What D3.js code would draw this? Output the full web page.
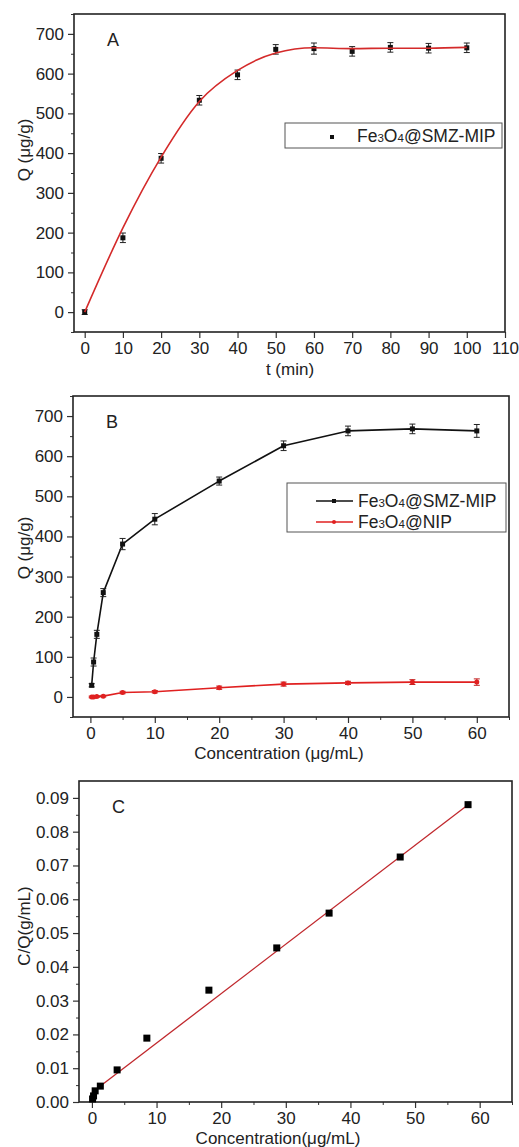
<!DOCTYPE html>
<html>
<head>
<meta charset="utf-8">
<script src="https://cdn.jsdelivr.net/npm/d3@7"></script>
<style>
  body { margin: 0; background: #fff; }
  svg text { font-family: "Liberation Sans", Arial, sans-serif; fill: #222; }
</style>
</head>
<body>
<svg id="chart" width="519" height="1147"></svg>
<script>
// panel A: kinetics
const tA = [0, 10, 20, 30, 40, 50, 60, 70, 80, 90, 100];
const qA = [0, 187, 387, 533, 597, 661, 663, 656, 666, 664, 665];
const errA = [6, 12, 12, 12, 12, 12, 14, 12, 12, 12, 12];
const fitA = [0, 212, 390, 530, 608, 652, 665, 663, 664, 664, 666];

// panel B: isotherms
const concB = [0.2, 0.5, 1, 2, 5, 10, 20, 30, 40, 50, 60];
const mipB = [29, 87, 156, 260, 381, 443, 538, 626, 663, 668, 663];
const mipErrB = [4, 10, 10, 10, 14, 14, 10, 12, 12, 12, 16];
const nipB = [0, 0, 1, 2, 11, 13, 23, 32, 35, 37, 37];
const nipErrB = [2, 2, 2, 2, 3, 3, 4, 5, 4, 6, 8];

// panel C: Langmuir plot
const ceC = [0.1, 0.25, 0.5, 1.3, 3.9, 8.5, 18.1, 28.6, 36.7, 47.7, 58.2];
const cqC = [0.0009, 0.0018, 0.0033, 0.0047, 0.0095, 0.0189, 0.0331, 0.0456, 0.0559, 0.0725, 0.0880];
const fitCx = [0, 58.2];
const fitCy = [0.0028, 0.0880];

const yTicksQ = [0, 100, 200, 300, 400, 500, 600, 700];
const xTicksA = [0, 10, 20, 30, 40, 50, 60, 70, 80, 90, 100, 110];
const xTicksConc = [0, 10, 20, 30, 40, 50, 60];
const yTicksC = [0, 0.01, 0.02, 0.03, 0.04, 0.05, 0.06, 0.07, 0.08, 0.09];

const svg = d3.select("#chart");
const FS = 17;

function panel(o) {
  let g = svg.append("g");
  let x = d3.scaleLinear().domain(o.xDomain).range([o.left, o.right]);
  let y = d3.scaleLinear().domain(o.yDomain).range([o.bottom, o.top]);

  // minor ticks
  if (o.yMinor) {
    g.append("g")
      .attr("transform", "translate(" + o.left + ",0)")
      .call(d3.axisLeft(y).tickValues(o.yMinor).tickSize(3).tickFormat(""))
      .call(s => s.select(".domain").remove())
      .selectAll("line").attr("stroke", "#333");
  }
  if (o.xMinor) {
    g.append("g")
      .attr("transform", "translate(0," + o.bottom + ")")
      .call(d3.axisBottom(x).tickValues(o.xMinor).tickSize(3).tickFormat(""))
      .call(s => s.select(".domain").remove())
      .selectAll("line").attr("stroke", "#333");
  }

  let ya = g.append("g")
    .attr("transform", "translate(" + o.left + ",0)")
    .call(d3.axisLeft(y).tickValues(o.yTicks).tickSize(6).tickSizeOuter(0).tickPadding(4).tickFormat(o.yFormat));
  ya.select(".domain").remove();
  ya.selectAll("line").attr("stroke", "#333").attr("stroke-width", 1.2);
  ya.selectAll("text").attr("font-size", FS).style("font-family", "Liberation Sans, Arial, sans-serif").attr("fill", "#222");

  let xa = g.append("g")
    .attr("transform", "translate(0," + o.bottom + ")")
    .call(d3.axisBottom(x).tickValues(o.xTicks).tickSize(6).tickSizeOuter(0).tickPadding(4));
  xa.select(".domain").remove();
  xa.selectAll("line").attr("stroke", "#333").attr("stroke-width", 1.2);
  xa.selectAll("text").attr("font-size", FS).style("font-family", "Liberation Sans, Arial, sans-serif").attr("fill", "#222");

  // frame
  g.append("rect")
    .attr("x", o.left).attr("y", o.top)
    .attr("width", o.right - o.left).attr("height", o.bottom - o.top)
    .attr("fill", "none").attr("stroke", "#222").attr("stroke-width", 1.6);

  g.append("text").attr("x", o.left + 33).attr("y", o.top + 32)
    .attr("font-size", FS + 1).text(o.tag);

  g.append("text").attr("x", o.xLabelX).attr("y", o.xLabelY)
    .attr("text-anchor", "middle").attr("font-size", FS).text(o.xLabel);

  g.append("text")
    .attr("transform", "translate(" + 30 + "," + o.yLabelY + ") rotate(-90)")
    .attr("text-anchor", "middle").attr("font-size", FS).text(o.yLabel);

  return {g: g, x: x, y: y};
}

function errorBars(p, xs, ys, es, color) {
  let eb = p.g.append("g").attr("stroke", color).attr("stroke-width", 1);
  xs.forEach((xv, i) => {
    let cx = p.x(xv), y1 = p.y(ys[i] - es[i]), y2 = p.y(ys[i] + es[i]);
    eb.append("line").attr("x1", cx).attr("x2", cx).attr("y1", y1).attr("y2", y2);
    eb.append("line").attr("x1", cx - 3).attr("x2", cx + 3).attr("y1", y1).attr("y2", y1);
    eb.append("line").attr("x1", cx - 3).attr("x2", cx + 3).attr("y1", y2).attr("y2", y2);
  });
}

function squares(p, xs, ys, size, color) {
  p.g.append("g").selectAll("rect").data(xs).join("rect")
    .attr("x", (d) => p.x(d) - size / 2)
    .attr("y", (d, i) => p.y(ys[i]) - size / 2)
    .attr("width", size).attr("height", size)
    .attr("fill", color);
}

function curve(p, xs, ys, color, width, cv) {
  let line = d3.line()
    .x((d) => p.x(d))
    .y((d, i) => p.y(ys[i]))
    .curve(cv || d3.curveLinear);
  p.g.append("path").datum(xs)
    .attr("fill", "none").attr("stroke", color)
    .attr("stroke-width", width).attr("stroke-linejoin", "round")
    .attr("d", line);
}

function fe3o4(t, x, y, rest) {
  t.attr("x", x).attr("y", y).attr("font-size", FS + 0.5);
  t.append("tspan").text("Fe");
  t.append("tspan").attr("font-size", 11.5).text("3");
  t.append("tspan").text("O");
  t.append("tspan").attr("font-size", 11.5).text("4");
  t.append("tspan").text(rest);
}

// ---- A ----
let A = panel({
  left: 74, right: 505, top: 14, bottom: 332,
  xDomain: [-2.8, 110], yDomain: [-50, 750],
  xTicks: xTicksA, yTicks: yTicksQ,
  yMinor: [-50, 50, 150, 250, 350, 450, 550, 650, 750],
  yFormat: d3.format("d"),
  tag: "A", xLabel: "t (min)", xLabelX: 290, xLabelY: 375,
  yLabel: "Q (μg/g)", yLabelY: 150
});
errorBars(A, tA, qA, errA, "#222");
squares(A, tA, qA, 5, "#111");
curve(A, tA, fitA, "#d42a2a", 1.6, d3.curveMonotoneX);

let legA = A.g.append("g");
legA.append("rect").attr("x", 285).attr("y", 123).attr("width", 217).attr("height", 25)
  .attr("fill", "#fff").attr("stroke", "#555").attr("stroke-width", 1);
legA.append("rect").attr("x", 330).attr("y", 135).attr("width", 4).attr("height", 4).attr("fill", "#111");
fe3o4(legA.append("text"), 357, 142, "@SMZ-MIP");

// ---- B ----
let B = panel({
  left: 73, right: 509, top: 396, bottom: 717,
  xDomain: [-2.7, 65], yDomain: [-50, 750],
  xTicks: xTicksConc, yTicks: yTicksQ,
  yMinor: [-50, 50, 150, 250, 350, 450, 550, 650, 750],
  xMinor: [5, 15, 25, 35, 45, 55, 65],
  yFormat: d3.format("d"),
  tag: "B", xLabel: "Concentration (μg/mL)", xLabelX: 279, xLabelY: 759,
  yLabel: "Q (μg/g)", yLabelY: 548
});
curve(B, concB, mipB, "#111", 1.6);
curve(B, concB, nipB, "#e02020", 1.6);
errorBars(B, concB, mipB, mipErrB, "#222");
errorBars(B, concB, nipB, nipErrB, "#c02020");
squares(B, concB, mipB, 5, "#111");
B.g.append("g").selectAll("circle").data(concB).join("circle")
  .attr("cx", (d) => B.x(d)).attr("cy", (d, i) => B.y(nipB[i])).attr("r", 2.5).attr("fill", "#e02020");

let legB = B.g.append("g");
legB.append("rect").attr("x", 287).attr("y", 483).attr("width", 219).attr("height", 49)
  .attr("fill", "#fff").attr("stroke", "#555").attr("stroke-width", 1);
legB.append("line").attr("x1", 316).attr("x2", 353).attr("y1", 501).attr("y2", 501).attr("stroke", "#111").attr("stroke-width", 1.6);
legB.append("rect").attr("x", 332).attr("y", 499).attr("width", 4).attr("height", 4).attr("fill", "#111");
legB.append("line").attr("x1", 316).attr("x2", 353).attr("y1", 522).attr("y2", 522).attr("stroke", "#e02020").attr("stroke-width", 1.6);
legB.append("circle").attr("cx", 334).attr("cy", 522).attr("r", 2).attr("fill", "#e02020");
fe3o4(legB.append("text"), 358, 507, "@SMZ-MIP");
fe3o4(legB.append("text"), 358, 528, "@NIP");

// ---- C ----
let C = panel({
  left: 79, right: 512, top: 781, bottom: 1102,
  xDomain: [-2, 65], yDomain: [0, 0.095],
  xTicks: xTicksConc, yTicks: yTicksC,
  yMinor: [0.005, 0.015, 0.025, 0.035, 0.045, 0.055, 0.065, 0.075, 0.085],
  xMinor: [5, 15, 25, 35, 45, 55, 65],
  yFormat: d3.format(".2f"),
  tag: "C", xLabel: "Concentration(μg/mL)", xLabelX: 278, xLabelY: 1144,
  yLabel: "C/Q(g/mL)", yLabelY: 926
});
curve(C, fitCx, fitCy, "#c0282d", 1.3);
squares(C, ceC, cqC, 7, "#000");
</script>
</body>
</html>
